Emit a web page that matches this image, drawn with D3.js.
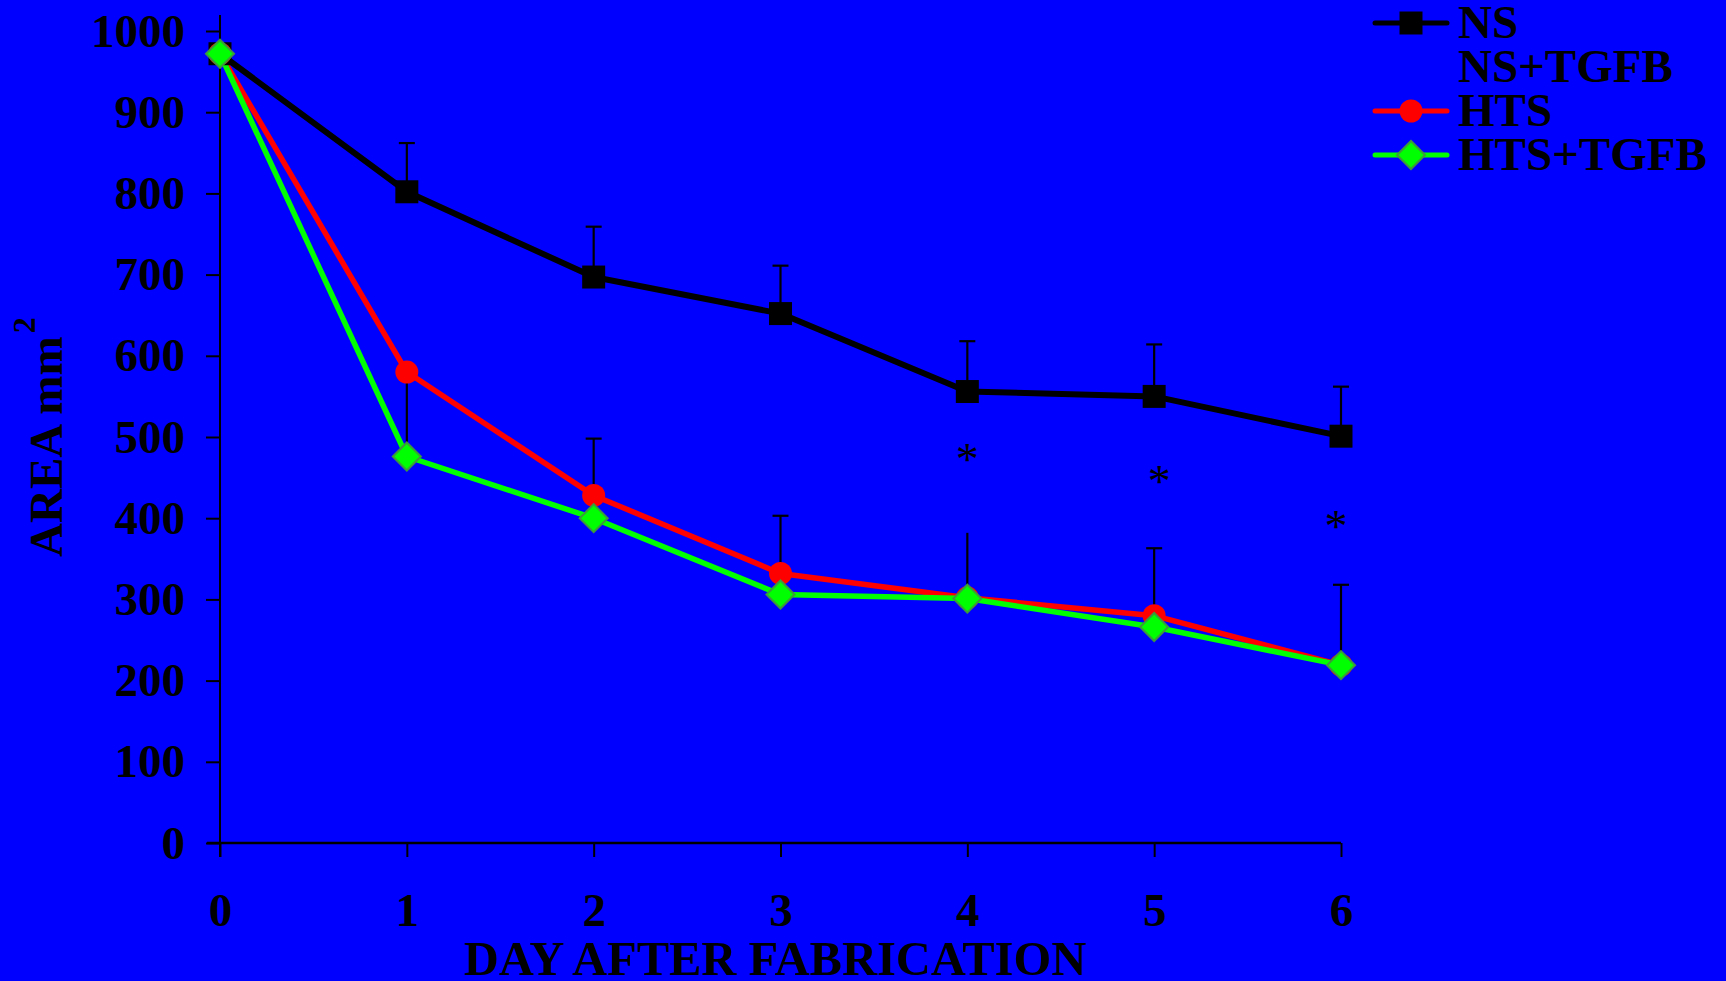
<!DOCTYPE html>
<html>
<head>
<meta charset="utf-8">
<script src="https://cdn.jsdelivr.net/npm/d3@7"></script>
<style>
  html, body { margin: 0; padding: 0; background: #0000ff; }
  svg { display: block; }
  text { font-family: "Liberation Serif", "Times New Roman", serif; }
</style>
</head>
<body>
<svg width="1726" height="981"></svg>
<script>
// data
const days = [0, 1, 2, 3, 4, 5, 6];
const ns = [972, 802, 697, 652, 556, 550, 501];
const nsTop = [null, 862, 759, 711, 618, 614, 562];
const hts = [972, 580, 428, 332, 302, 280, 219];
const htsTop = [null, null, 498, 403, 382, 363, 318];
const htsCap = [false, false, true, true, false, true, true];
const htsTgfb = [972, 476, 400, 306, 301, 266, 219];
const htsTgfbTop = [null, 580, null, null, null, null, null];
const starDays = [4, 5, 6];
const starValues = [480, 453, 398];
const yTicks = [0, 100, 200, 300, 400, 500, 600, 700, 800, 900, 1000];
const legendNames = ["NS", "NS+TGFB", "HTS", "HTS+TGFB"];

const svg = d3.select("svg");
const x = d3.scaleLinear().domain([0, 6]).range([220, 1341]);
const y = d3.scaleLinear().domain([0, 1000]).range([843, 31]);

const FONT = 47;

// axes
const gy = svg.append("g").attr("transform", "translate(220,0)")
  .call(d3.axisLeft(y).tickValues(yTicks).tickFormat(d3.format("d")).tickSize(14).tickPadding(21));
const gx = svg.append("g").attr("transform", "translate(0,843)")
  .call(d3.axisBottom(x).tickValues(days).tickFormat(d3.format("d")).tickSize(14).tickPadding(36));
[gx, gy].forEach(g => {
  g.select(".domain").remove();
  g.selectAll(".tick line").attr("stroke", "#000").attr("stroke-width", 2);
  g.selectAll(".tick text")
    .attr("fill", "#000")
    .attr("font-family", "Liberation Serif")
    .attr("font-weight", "bold")
    .attr("font-size", FONT);
});
svg.append("line")
  .attr("x1", x(0)).attr("x2", x(0))
  .attr("y1", y(1000) - 16).attr("y2", y(0) + 14)
  .attr("stroke", "#000").attr("stroke-width", 2);
svg.append("line")
  .attr("x1", x(0) - 13).attr("x2", x(6))
  .attr("y1", y(0)).attr("y2", y(0))
  .attr("stroke", "#000").attr("stroke-width", 2.5);

// axis titles
svg.append("text")
  .attr("x", 775).attr("y", 975)
  .attr("text-anchor", "middle")
  .attr("font-weight", "bold").attr("font-size", 48.5)
  .attr("fill", "#000")
  .text("DAY AFTER FABRICATION");

const yt = svg.append("text")
  .attr("transform", "translate(62,557) rotate(-90)")
  .attr("font-weight", "bold").attr("font-size", FONT)
  .attr("fill", "#000");
yt.append("tspan").text("AREA mm");
yt.append("tspan").attr("font-size", 32).attr("dy", -27).attr("dx", 3).text("2");

// error bars
function errorBars(means, tops, caps) {
  const pts = days.map((d, i) => ({ d, m: means[i], t: tops[i], c: caps ? caps[i] : true }))
    .filter(p => p.t != null);
  const g = svg.append("g").attr("stroke", "#000").attr("stroke-width", 2.2);
  g.selectAll("line.bar").data(pts).join("line")
    .attr("x1", p => x(p.d)).attr("x2", p => x(p.d))
    .attr("y1", p => y(p.m)).attr("y2", p => y(p.t));
  g.selectAll("line.cap").data(pts.filter(p => p.c)).join("line")
    .attr("x1", p => x(p.d) - 8).attr("x2", p => x(p.d) + 8)
    .attr("y1", p => y(p.t)).attr("y2", p => y(p.t));
}
errorBars(ns, nsTop);
errorBars(hts, htsTop, htsCap);
errorBars(htsTgfb, htsTgfbTop);

// asterisks
svg.selectAll("text.star").data(starDays).join("text")
  .attr("class", "star")
  .attr("x", (d, i) => x(d) + (d === 5 ? 5 : d === 6 ? -5 : 0))
  .attr("y", (d, i) => y(starValues[i]) + 22)
  .attr("text-anchor", "middle")
  .attr("font-size", 46).attr("fill", "#000")
  .text("*");

const line = d3.line().x((v, i) => x(days[i])).y(v => y(v));

const series = [
  { vals: ns, color: "#000", width: 6, symbol: d3.symbolSquare, size: 529, rot: 0, stroke: "none" },
  { vals: hts, color: "#ff0000", width: 5.5, symbol: d3.symbolCircle, size: 415, rot: 0, stroke: "none" },
  { vals: htsTgfb, color: "#00ff00", width: 5.5, symbol: d3.symbolSquare, size: 392, rot: 45, stroke: "#3c9a3c" }
];

series.forEach(s => {
  svg.append("path")
    .attr("d", line(s.vals))
    .attr("fill", "none")
    .attr("stroke", s.color)
    .attr("stroke-width", s.width)
    .attr("stroke-linejoin", "round");
});
series.forEach(s => {
  svg.append("g").selectAll("path").data(s.vals).join("path")
    .attr("d", d3.symbol(s.symbol, s.size))
    .attr("transform", (v, i) => `translate(${x(days[i])},${y(v)}) rotate(${s.rot})`)
    .attr("fill", s.color)
    .attr("stroke", s.stroke)
    .attr("stroke-width", 2);
});

// legend
const legendSeries = [series[0], null, series[1], series[2]];
const lg = svg.append("g").attr("transform", "translate(1375,23)");
legendNames.forEach((name, i) => {
  const row = lg.append("g").attr("transform", `translate(0,${i * 44})`);
  const s = legendSeries[i];
  if (s) {
    row.append("line")
      .attr("x1", 0).attr("x2", 72)
      .attr("stroke", s.color).attr("stroke-width", 5)
      .attr("stroke-linecap", "round");
    row.append("path")
      .attr("d", d3.symbol(s.symbol, s.size))
      .attr("transform", `translate(36,0) rotate(${s.rot})`)
      .attr("fill", s.color)
      .attr("stroke", s.stroke)
      .attr("stroke-width", 2);
  }
  row.append("text")
    .attr("x", 83).attr("y", 15)
    .attr("font-weight", "bold").attr("font-size", FONT)
    .attr("fill", "#000")
    .text(name);
});
</script>
</body>
</html>
